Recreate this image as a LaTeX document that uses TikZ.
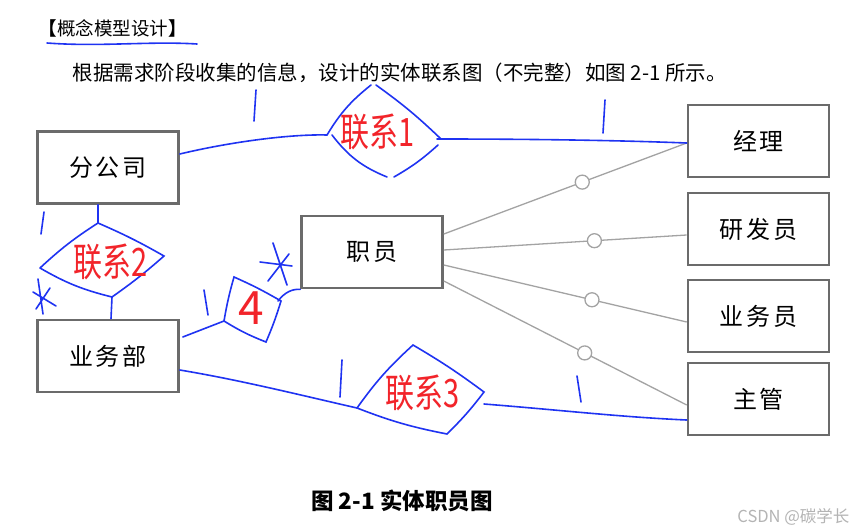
\documentclass[tikz,border=0pt]{standalone}
\usepackage{fontspec}
\setmainfont{Noto Sans CJK SC}
\usetikzlibrary{calc}
\definecolor{boxgray}{HTML}{6B6B6B}
\definecolor{lngray}{HTML}{A3A3A3}
\definecolor{penblue}{HTML}{1F33F2}
\definecolor{penred}{HTML}{F2242A}
\definecolor{wmgray}{HTML}{B4B4B4}

\begin{document}
\begin{tikzpicture}[x=1pt, y=-1pt,
  entity/.style={draw=boxgray, line width=2.6pt, minimum width=141pt, minimum height=72pt,
    inner sep=0pt, font=\fontsize{24}{24}\selectfont\addfontfeature{LetterSpace=12}},
  pen/.style={penblue, line width=1.6pt, line cap=round},
  isa/.style={lngray, line width=1.3pt},
  ring/.style={circle, draw=lngray, line width=1.3pt, fill=white, minimum size=14pt, inner sep=0pt},
  hand/.style={text=penred, font=\fontsize{29}{29}\selectfont}]

% Background
\useasboundingbox (0,0) rectangle (859,530);
\fill[white] (0,0) rectangle (859,530);

% Title and intro text
\node[anchor=west, font=\fontsize{18.5}{20}\selectfont] (title) at (35,28) {\textbf{【}概念模型设计\textbf{】}};
\draw[pen] (47,43) .. controls (100,47) and (150,41) .. (197,44);
\node[anchor=west, font=\fontsize{20.5}{22}\selectfont] (intro) at (69,73)
  {根据需求阶段收集的信息，设计的实体联系图（不完整）如图 2-1 所示。};

% ========== Entities ==========
\node[entity] (fgs) at (108,167.5) {分公司};
\node[entity] (ywb) at (108,356) {业务部};
\node[entity] (zy) at (372,252) {职员};
\node[entity] (jl) at (758.5,141) {经理};
\node[entity] (yfy) at (758.5,229) {研发员};
\node[entity] (ywy) at (758.5,316) {业务员};
\node[entity] (zg) at (758.5,399) {主管};

% Subtype lines with rings
\draw[isa] ([yshift=18pt]zy.east) -- ([yshift=-2pt]jl.west) node[ring, pos=0.57] (o1) {};
\draw[isa] ([yshift=2pt]zy.east) -- ([yshift=-6pt]yfy.west) node[ring, pos=0.62] (o2) {};
\draw[isa] ([yshift=-13pt]zy.east) -- ([yshift=-6pt]ywy.west) node[ring, pos=0.61] (o3) {};
\draw[isa] ([yshift=-29pt]zy.east) -- ([yshift=-6pt]zg.west) node[ring, pos=0.58] (o4) {};

% ========== Hand-drawn relationships ==========
% 联系1
\coordinate (r1w) at (327,135);
\coordinate (r1n) at (371,85);
\coordinate (r1e) at (441,139);
\coordinate (r1s) at (394,177);
\draw[pen] (r1w) to[bend left=10] (r1n);
\draw[pen] ([xshift=5pt]r1n) to[bend left=4] (r1e);
\draw[pen] ([xshift=-3pt,yshift=-6pt]r1e) to[bend left=6] (r1s);
\draw[pen] ([xshift=5pt]r1w) to[bend right=15] ([xshift=-7pt]r1s);
\node[hand] (l1) at (378,132) {\scalebox{1}[1.35]{联系1}};

% 联系2
\coordinate (r2n) at (98,223);
\coordinate (r2e) at (164,256);
\coordinate (r2s) at (112,297);
\coordinate (r2w) at (40,268);
\draw[pen] (r2w) to[bend left=5] (r2n) to[bend left=3] (r2e) to[bend left=3] (r2s) to[bend left=8] (r2w);
\node[hand] (l2) at (111,262) {\scalebox{1}[1.35]{联系2}};

% 4
\coordinate (r4n) at (234,277);
\coordinate (r4e) at (281,301);
\coordinate (r4s) at (266,342);
\coordinate (r4w) at (224,321);
\draw[pen] (r4w) to[bend left=3] (r4n) to[bend left=3] (r4e) to[bend left=3] (r4s) to[bend left=5] (r4w);
\node[hand, font=\fontsize{46}{46}\selectfont] (l4) at (251,308) {4};

% 联系3
\coordinate (r3w) at (357,408);
\coordinate (r3n) at (413,345);
\coordinate (r3e) at (484,392);
\coordinate (r3s) at (447,434);
\draw[pen] (r3w) to[bend left=6] (r3n) to[bend left=3] (r3e) to[bend left=4] (r3s) to[bend left=5] (r3w);
\node[hand] (l3) at (423,393) {\scalebox{1}[1.35]{联系3}};

% Connectors
\draw[pen] ([yshift=13.5pt]fgs.east) .. controls (230,142) and (290,134) .. (r1w);
\draw[pen] ([xshift=-4pt]r1e) .. controls (520,139) and (610,140) .. ([yshift=-2pt]jl.west);
\draw[pen] ([xshift=-10pt]fgs.south) -- (r2n);
\draw[pen] (r2s) -- ([xshift=3pt]ywb.north);
\draw[pen] ([xshift=3pt,yshift=19pt]ywb.east) -- (r4w);
\draw[pen] ([xshift=-3pt]r4e) .. controls (285,292) and (292,289) .. (zy.south west);
\draw[pen] ([yshift=-14pt]ywb.east) .. controls (240,380) and (300,395) .. (r3w);
\draw[pen] ([yshift=-12pt]r3e) .. controls (560,410) and (620,417) .. ([yshift=-21pt]zg.west);

% Cardinality marks
\foreach \xa/\ya/\xb/\yb in {256/90/254/121, 605/100/603/133, 44/212/41/234,
                             204/290/208/315, 342/360/340/397, 577/376/581/402}
  \draw[pen] (\xa,\ya) -- (\xb,\yb);
\draw[pen] (38,279) -- (43,314) (33,292) -- (56,306) (36,309) -- (50,288);
\draw[pen] (273,243) -- (287,285) (260,262) -- (292,266) (268,281) -- (289,254);

% Caption
\node[font=\fontsize{22.5}{23}\selectfont\bfseries] (cap) at (402,501) {图 2-1 实体职员图};
\node[anchor=east, text=wmgray, font=\fontsize{16.5}{17}\selectfont] (wm) at (853,517) {CSDN @碳学长};

\end{tikzpicture}
\end{document}
